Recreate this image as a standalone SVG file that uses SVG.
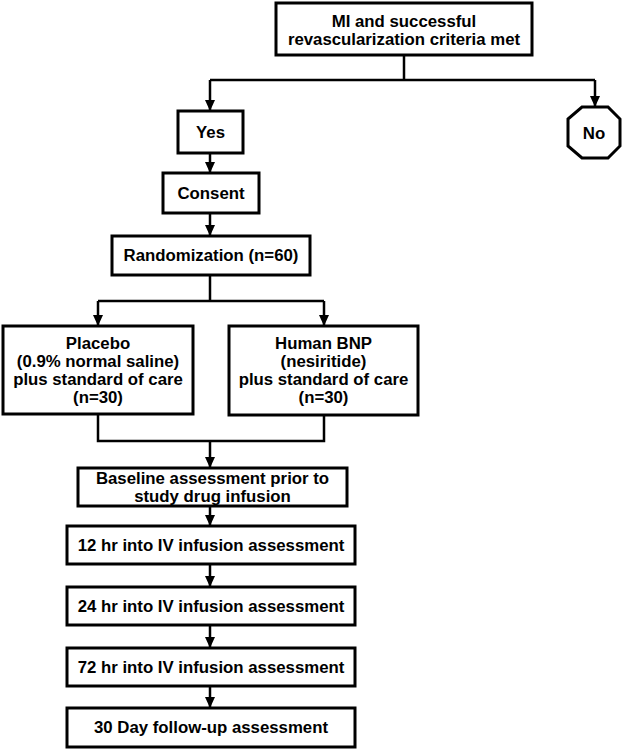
<svg xmlns="http://www.w3.org/2000/svg" width="627" height="750" viewBox="0 0 627 750">
<style>
.box{fill:#fff;stroke:#000;stroke-width:3}
.t{font-family:"Liberation Sans",Arial,sans-serif;font-weight:bold;font-size:16.8px;fill:#000;text-anchor:middle}
.c{fill:none;stroke:#000;stroke-width:2.5}
</style>
<defs>
<marker id="ah" markerUnits="userSpaceOnUse" markerWidth="10" markerHeight="11" refX="5" refY="11" orient="auto-start-reverse" viewBox="0 0 10 11">
<path d="M0,0 L10,0 L5,11 Z" fill="#000" transform="rotate(-90 5 5.5)"/>
</marker>
<marker id="ad" markerUnits="userSpaceOnUse" markerWidth="10" markerHeight="11" refX="5" refY="11" orient="0" viewBox="0 0 10 11">
<path d="M0,0 L10,0 L5,11 Z" fill="#000"/>
</marker>
</defs>
<g id="connectors">
<path class="c" d="M404,55 V80"/>
<path class="c" d="M210,80 H595"/>
<path class="c" d="M210,80 V111" marker-end="url(#ad)"/>
<path class="c" d="M595,80 V107" marker-end="url(#ad)"/>
<path class="c" d="M210,153 V173" marker-end="url(#ad)"/>
<path class="c" d="M210,213 V236" marker-end="url(#ad)"/>
<path class="c" d="M210,275 V301"/>
<path class="c" d="M98,301 H324"/>
<path class="c" d="M98,301 V326" marker-end="url(#ad)"/>
<path class="c" d="M324,301 V326" marker-end="url(#ad)"/>
<path class="c" d="M98,414 V441 H324 V415"/>
<path class="c" d="M210,441 V468" marker-end="url(#ad)"/>
<path class="c" d="M210,506 V526" marker-end="url(#ad)"/>
<path class="c" d="M210,564 V587" marker-end="url(#ad)"/>
<path class="c" d="M210,625 V648" marker-end="url(#ad)"/>
<path class="c" d="M210,686 V708" marker-end="url(#ad)"/>
</g>
<g id="criteria">
<rect class="box" x="276" y="3" width="256" height="52"/>
<text class="t" x="404" y="27">MI and successful</text>
<text class="t" x="404" y="45">revascularization criteria met</text>
</g>
<g id="yes">
<rect class="box" x="178" y="111" width="65" height="42"/>
<text class="t" x="210.5" y="138">Yes</text>
</g>
<g id="no">
<polygon class="box" points="582,107 608,107 620,119 620,146 608,158 582,158 568,146 568,119"/>
<text class="t" x="594" y="139">No</text>
</g>
<g id="consent">
<rect class="box" x="163" y="173" width="96" height="40"/>
<text class="t" x="211" y="199">Consent</text>
</g>
<g id="randomization">
<rect class="box" x="112" y="236" width="198" height="39"/>
<text class="t" x="211" y="261">Randomization (n=60)</text>
</g>
<g id="placebo">
<rect class="box" x="3" y="326" width="190" height="88"/>
<text class="t" x="98" y="349">Placebo</text>
<text class="t" x="98" y="367">(0.9% normal saline)</text>
<text class="t" x="98" y="385">plus standard of care</text>
<text class="t" x="98" y="403">(n=30)</text>
</g>
<g id="bnp">
<rect class="box" x="229" y="326" width="189" height="89"/>
<text class="t" x="323.5" y="349">Human BNP</text>
<text class="t" x="323.5" y="367">(nesiritide)</text>
<text class="t" x="323.5" y="385">plus standard of care</text>
<text class="t" x="323.5" y="403">(n=30)</text>
</g>
<g id="baseline">
<rect class="box" x="78" y="468" width="269" height="38"/>
<text class="t" x="212.5" y="484">Baseline assessment prior to</text>
<text class="t" x="212.5" y="502">study drug infusion</text>
</g>
<g id="h12">
<rect class="box" x="67" y="526" width="288" height="38"/>
<text class="t" x="211" y="551">12 hr into IV infusion assessment</text>
</g>
<g id="h24">
<rect class="box" x="67" y="587" width="288" height="38"/>
<text class="t" x="211" y="612">24 hr into IV infusion assessment</text>
</g>
<g id="h72">
<rect class="box" x="67" y="648" width="288" height="38"/>
<text class="t" x="211" y="673">72 hr into IV infusion assessment</text>
</g>
<g id="d30">
<rect class="box" x="67" y="708" width="288" height="39"/>
<text class="t" x="211" y="733">30 Day follow-up assessment</text>
</g>
</svg>
